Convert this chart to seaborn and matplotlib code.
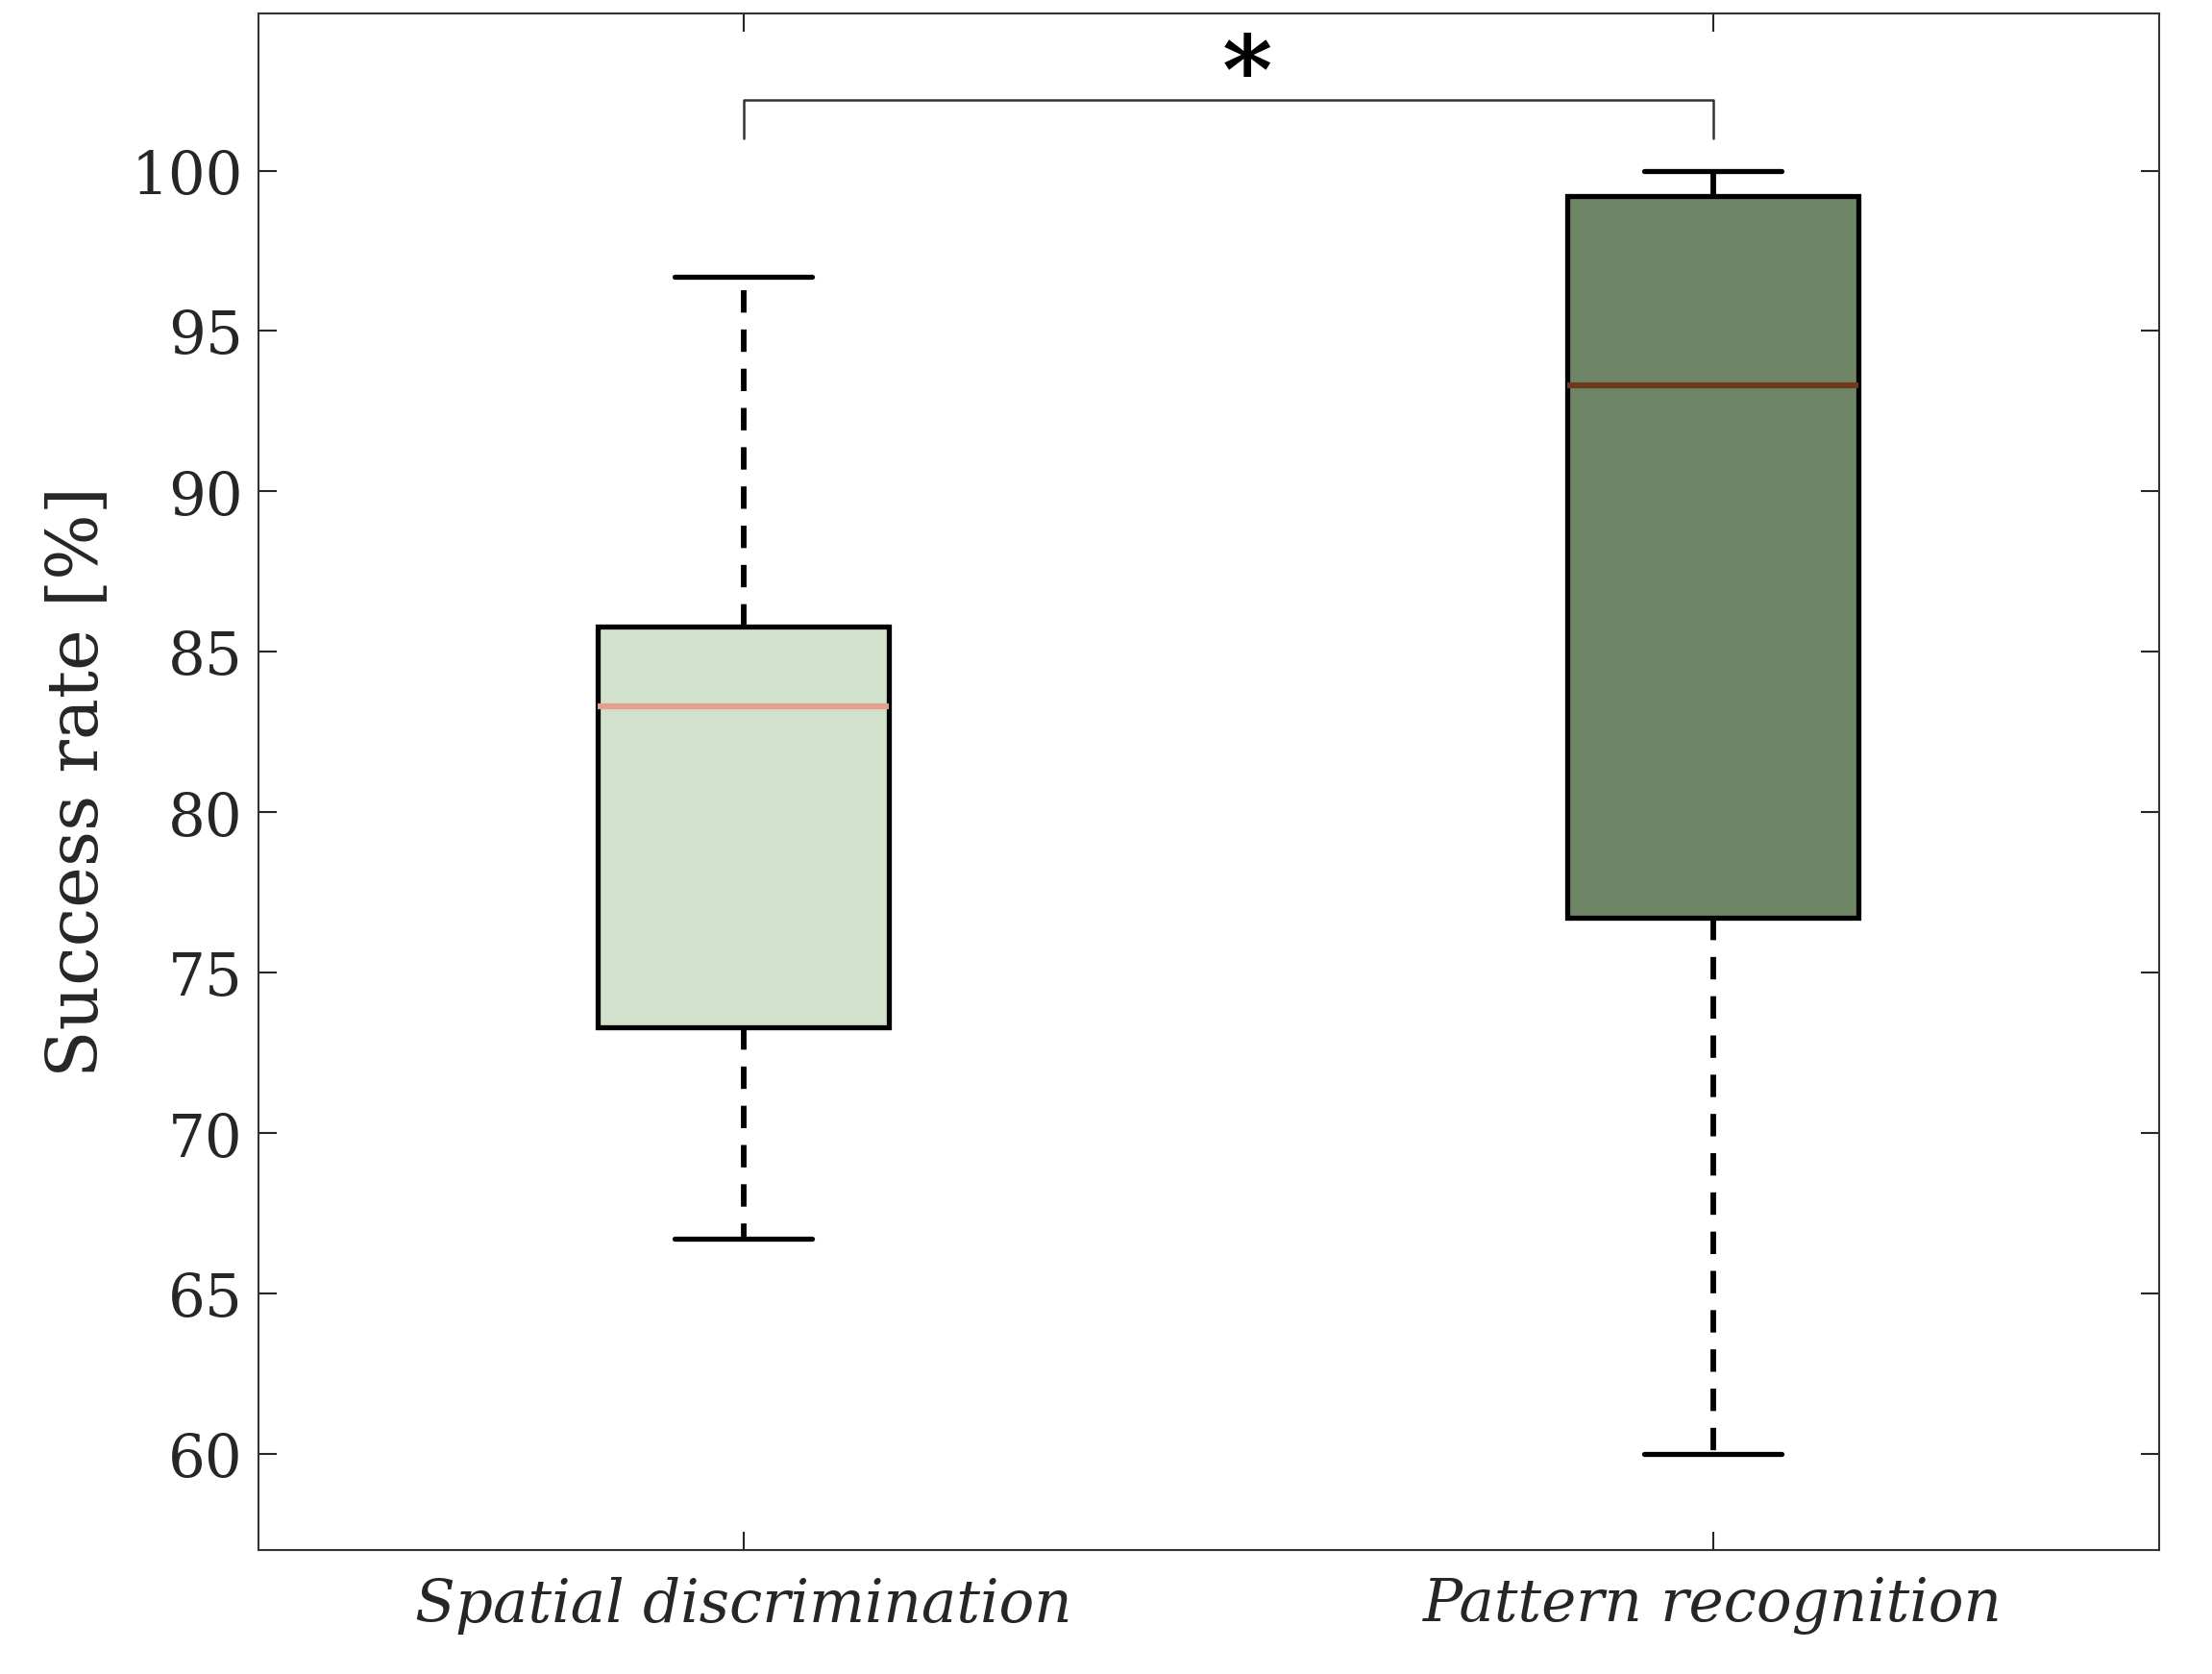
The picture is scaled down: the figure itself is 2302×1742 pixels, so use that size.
import numpy as np
import pandas as pd
import seaborn as sns
import matplotlib.pyplot as plt

# per-task success rates (%)
spatial = [66.7, 73.3, 83.3, 85.8, 96.7]
pattern = [60.0, 76.7, 93.3, 99.2, 100.0]
tasks = ['Spatial discrimination', 'Pattern recognition']
box_colors = ['#d2e1cc', '#6e8566']
median_colors = ['#e3a08c', '#6e3a1e']

df = pd.DataFrame({
    'task': np.repeat(tasks, [len(spatial), len(pattern)]),
    'rate': spatial + pattern,
})

sns.set_style('white')
plt.rcParams['font.family'] = ['DejaVu Serif']

fig = plt.figure(figsize=(23.02, 17.42), dpi=100)
ax = fig.add_axes([0.117, 0.074, 0.859, 0.918])

sns.boxplot(data=df, x='task', y='rate', hue='task', order=tasks,
            palette=box_colors, legend=False, width=0.3, whis=1.5,
            linecolor='black', linewidth=3.8, showfliers=False, saturation=1,
            whiskerprops={'linestyle': (0, (4, 3)), 'linewidth': 4.2},
            capprops={'linestyle': '-'},
            ax=ax)

meds = [np.median(spatial), np.median(pattern)]
for line in ax.lines:
    y = line.get_ydata()
    x = line.get_xdata()
    if len(y) == 2 and y[0] == y[1] and abs(x[1] - x[0]) > 0.25:
        for i, m in enumerate(meds):
            if abs(y[0] - m) < 1e-9:
                line.set_color(median_colors[i])
                line.set_linewidth(4.5)
    if len(y) == 2 and y[0] == y[1] and abs(x[1] - x[0]) < 0.25:
        c = (x[0] + x[1]) / 2
        line.set_xdata([c - 0.071, c + 0.071])

ax.set_xlim(-0.5, 1.46)
ax.set_ylim(57.0, 104.9)
ax.set_yticks(np.arange(60, 101, 5))
ax.set_xlabel('')
ax.set_ylabel('Success rate [%]', fontsize=52, labelpad=14)
ax.set_xticks([0, 1])
ax.set_xticklabels(tasks, fontsize=44, style='italic')
ax.tick_params(axis='y', labelsize=44, direction='in', length=14, right=True, left=True, width=1.5, pad=12)
ax.tick_params(axis='x', direction='in', length=14, top=True, bottom=True, width=1.5, pad=20)
for s in ax.spines.values():
    s.set_linewidth(1.5)
    s.set_color('#333333')

# significance bracket
ax.plot([0, 0, 1, 1], [101.0, 102.2, 102.2, 101.0], color='#333333', lw=1.8, clip_on=False)
ax.text(0.52, 102.9, '*', ha='center', va='center', fontsize=72, fontweight='bold', color='black')

fig.savefig('out.png', dpi=100)
